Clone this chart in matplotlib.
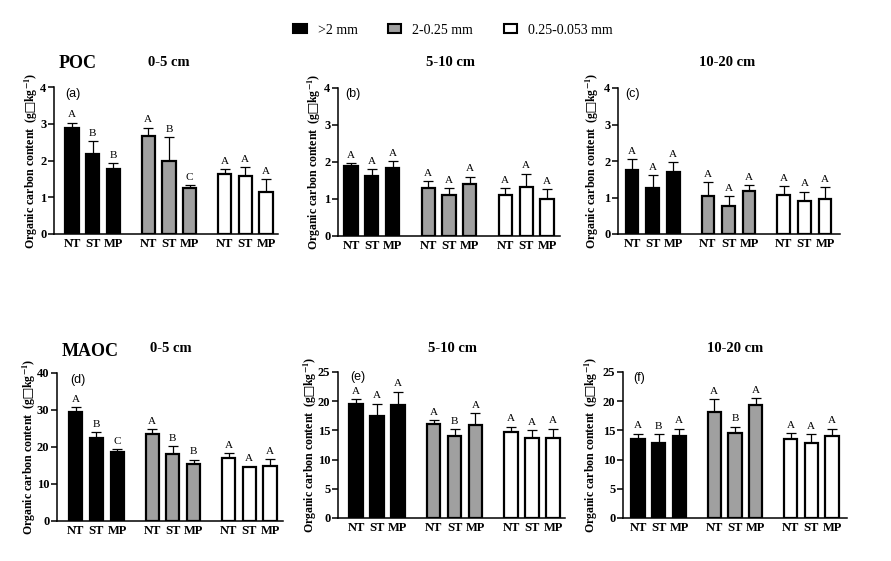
import matplotlib
matplotlib.use("Agg")
import matplotlib.pyplot as plt
from matplotlib.patches import Patch
import numpy as np

plt.rcParams['font.family'] = ['Liberation Serif', 'DejaVu Serif']
plt.rcParams['mathtext.fontset'] = 'stix'

# ---------------- data ----------------
treatments = ["NT", "ST", "MP"]
fractions = [">2 mm", "2-0.25 mm", "0.25-0.053 mm"]
depths = ["0-5 cm", "5-10 cm", "10-20 cm"]
panel_tags = ["(a)", "(b)", "(c)", "(d)", "(e)", "(f)"]

# each panel: 3 fractions x 3 treatments
poc_0_5 = [[2.89, 2.19, 1.76], [2.67, 2.00, 1.26], [1.64, 1.59, 1.13]]
poc_0_5_err = [[0.14, 0.33, 0.16], [0.22, 0.63, 0.07], [0.12, 0.23, 0.36]]
poc_0_5_sig = [["A", "B", "B"], ["A", "B", "C"], ["A", "A", "A"]]

poc_5_10 = [[1.89, 1.62, 1.82], [1.30, 1.10, 1.41], [1.10, 1.32, 0.99]]
poc_5_10_err = [[0.07, 0.17, 0.19], [0.17, 0.18, 0.19], [0.18, 0.36, 0.26]]
poc_5_10_sig = [["A", "A", "A"], ["A", "A", "A"], ["A", "A", "A"]]

poc_10_20 = [[1.76, 1.27, 1.71], [1.03, 0.78, 1.18], [1.07, 0.91, 0.96]]
poc_10_20_err = [[0.29, 0.34, 0.25], [0.39, 0.26, 0.16], [0.24, 0.25, 0.32]]
poc_10_20_sig = [["A", "A", "A"], ["A", "A", "A"], ["A", "A", "A"]]

maoc_0_5 = [[29.3, 22.2, 18.6], [23.5, 18.1, 15.4], [16.8, 14.4, 14.7]]
maoc_0_5_err = [[1.3, 1.7, 0.7], [1.2, 2.0, 1.0], [1.4, 0.1, 1.9]]
maoc_0_5_sig = [["A", "B", "C"], ["A", "B", "B"], ["A", "A", "A"]]

maoc_5_10 = [[19.5, 17.4, 19.4], [16.1, 14.0, 16.0], [14.8, 13.75, 13.75]]
maoc_5_10_err = [[0.8, 2.2, 2.2], [0.6, 1.2, 1.9], [0.8, 1.25, 1.55]]
maoc_5_10_sig = [["A", "A", "A"], ["A", "B", "A"], ["A", "A", "A"]]

maoc_10_20 = [[13.5, 12.9, 14.0], [18.2, 14.5, 19.4], [13.5, 12.9, 14.0]]
maoc_10_20_err = [[0.9, 1.4, 1.3], [2.1, 1.1, 1.1], [1.0, 1.4, 1.3]]
maoc_10_20_sig = [["A", "B", "A"], ["A", "B", "A"], ["A", "A", "A"]]

panels_vals = [poc_0_5, poc_5_10, poc_10_20, maoc_0_5, maoc_5_10, maoc_10_20]
panels_err = [poc_0_5_err, poc_5_10_err, poc_10_20_err,
              maoc_0_5_err, maoc_5_10_err, maoc_10_20_err]
panels_sig = [poc_0_5_sig, poc_5_10_sig, poc_10_20_sig,
              maoc_0_5_sig, maoc_5_10_sig, maoc_10_20_sig]
panels_ymax = [4, 4, 4, 40, 25, 25]
panels_ystep = [1, 1, 1, 10, 5, 5]

# ---------------- layout ----------------
W, H = 891, 561
fig = plt.figure(figsize=(W / 100, H / 100), dpi=100)

# pixel boxes: left, top, right, bottom
boxes = [(54, 87, 278, 234), (338, 88, 560, 235.5), (618, 88, 840, 234),
         (57, 372.5, 283, 520.5), (338, 372, 565, 518), (623, 372, 847, 518)]
# pixel offsets from axis ends to first / last bar centres
pads = [(18, 12), (13, 13), (14, 15), (18.7, 13), (18, 12), (15, 15)]
ylabel_px = [40, 323, 601, 38, 319, 600]
tag_px = [(65, 94), (345, 94), (625, 94), (70, 380), (350, 377), (633, 378)]

fills = ["black", "#a0a0a0", "white"]
group_offsets = [0.0, 3.7, 7.4]
bar_w = 0.63

ylabel_text = "Organic carbon content  (g$\u25a1$kg$^{\\mathbf{-1}}$)"

for i in range(6):
    l, t, r, b = boxes[i]
    ax = fig.add_axes([l / W, 1 - b / H, (r - l) / W, (b - t) / H])
    vals = panels_vals[i]
    errs = panels_err[i]
    sigs = panels_sig[i]
    xt, xl = [], []
    for g in range(3):
        pos = group_offsets[g] + np.arange(3)
        ax.bar(pos, vals[g], width=bar_w, color=fills[g], edgecolor="black",
               linewidth=1.6, zorder=2)
        ax.errorbar(pos, vals[g], yerr=[np.zeros(3), errs[g]], fmt="none",
                    ecolor="black", elinewidth=0.9, capsize=3.5,
                    capthick=0.9, zorder=1)
        for k in range(3):
            ax.annotate(sigs[g][k], (pos[k], vals[g][k] + errs[g][k]),
                        xytext=(0, 2.5), textcoords="offset points",
                        ha="center", va="bottom", fontsize=8)
        xt += list(pos)
        xl += treatments
    last = group_offsets[2] + 2
    span_px = (r - l) - pads[i][0] - pads[i][1]
    s = span_px / last
    ax.set_xlim(-pads[i][0] / s, last + pads[i][1] / s)
    ax.set_ylim(0, panels_ymax[i])
    ax.set_yticks(np.arange(0, panels_ymax[i] + 0.1, panels_ystep[i]))
    ax.set_xticks(xt)
    ax.set_xticklabels(xl, fontsize=9, fontweight="bold")
    ax.tick_params(axis="x", length=0, pad=3)
    ax.tick_params(axis="y", length=4, width=1.1, pad=1.5, labelsize=9)
    for lab in ax.get_yticklabels():
        lab.set_fontweight("bold")
    for sp in ["top", "right"]:
        ax.spines[sp].set_visible(False)
    for sp in ["left", "bottom"]:
        ax.spines[sp].set_linewidth(1.1)
    ax.set_ylabel(ylabel_text, fontsize=8.6, fontweight="bold")
    ax.yaxis.set_label_coords(-(l - ylabel_px[i]) / (r - l), 0.5)
    tx, ty = tag_px[i]
    fig.text(tx / W, 1 - ty / H, panel_tags[i], family="Liberation Sans",
             fontsize=9, ha="left", va="center")

# titles
fig.text(78 / W, 1 - 64 / H, "POC", fontsize=13, fontweight="bold",
         ha="center", va="center")
fig.text(90 / W, 1 - 351 / H, "MAOC", fontsize=13, fontweight="bold",
         ha="center", va="center")
top_title_px = [(169, 63), (450, 63), (727, 63)]
bot_title_px = [(171, 349), (452, 349), (735, 348)]
for j in range(3):
    x, y = top_title_px[j]
    fig.text(x / W, 1 - y / H, depths[j], fontsize=10.5, fontweight="bold",
             ha="center", va="center")
    x, y = bot_title_px[j]
    fig.text(x / W, 1 - y / H, depths[j], fontsize=10.5, fontweight="bold",
             ha="center", va="center")

handles = [Patch(facecolor=fills[g], edgecolor="black", linewidth=1.5,
                 label=fractions[g]) for g in range(3)]
fig.legend(handles=handles, loc="center", bbox_to_anchor=(453 / W, 1 - 30 / H),
           ncol=3, frameon=False, fontsize=10, handlelength=0.95,
           handleheight=0.6, handletextpad=0.8, columnspacing=2.2)

fig.savefig("out.png", dpi=100)
